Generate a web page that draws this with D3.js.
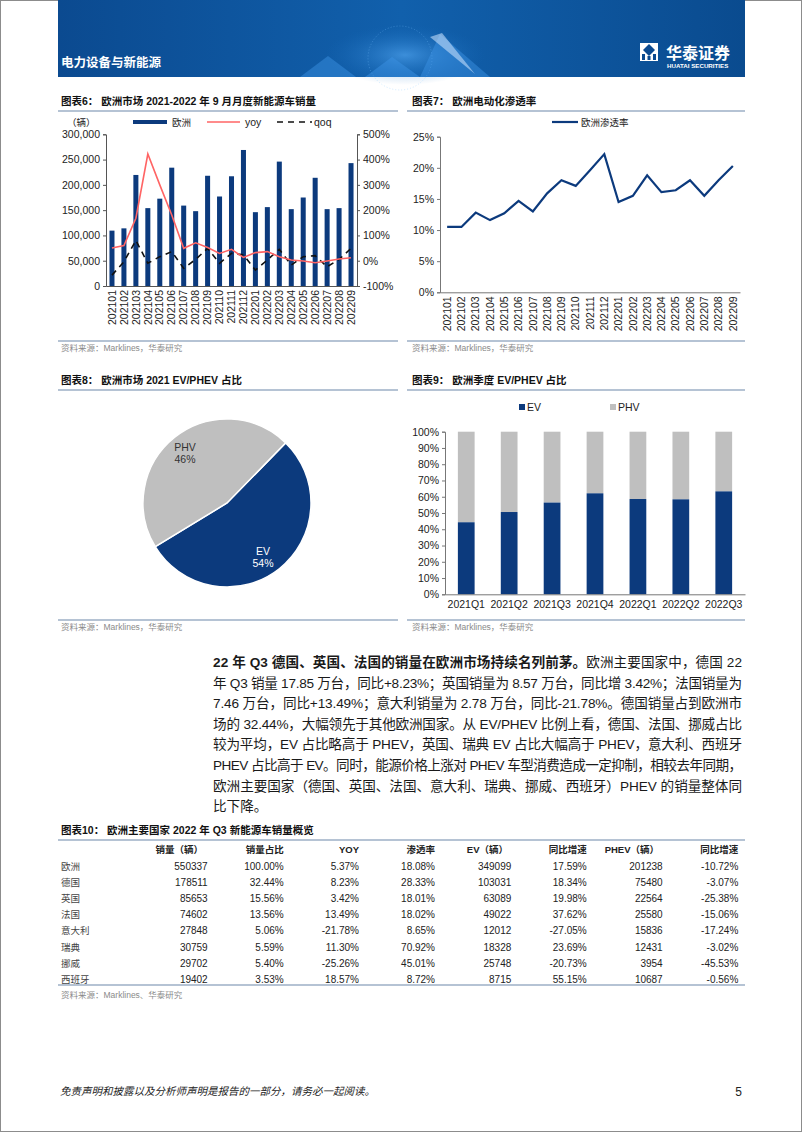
<!DOCTYPE html>
<html><head><meta charset="utf-8">
<script src="https://cdn.jsdelivr.net/npm/d3@7"></script>
<style>
body{margin:0;padding:0;background:#fff;}
svg{display:block;}
text{font-family:"Liberation Sans",Arial,"Noto Sans CJK SC",sans-serif;}
</style></head>
<body>
<svg id="page" width="802" height="1133"></svg>
<script>
// ---------- DATA ----------
const months = ["202101","202102","202103","202104","202105","202106","202107","202108","202109","202110","202111","202112","202201","202202","202203","202204","202205","202206","202207","202208","202209"];
const euSales = [109500,114000,219600,154000,172700,234000,159000,148000,218000,177000,217000,269000,146000,156000,246000,152000,175000,214000,152000,154000,243000];
const yoy = [0.50,0.60,1.68,4.22,3.00,1.81,0.49,0.71,0.52,0.29,0.45,0.13,0.32,0.36,0.16,0.03,-0.01,-0.08,-0.01,0.07,0.12];
const qoq = [-0.57,-0.04,0.80,-0.10,0.16,0.36,-0.30,0.05,0.49,-0.10,0.29,0.23,-0.37,0.03,0.45,-0.17,0.16,0.20,-0.24,0.05,0.49];
const leftTicks6 = [0,50000,100000,150000,200000,250000,300000];
const rightTicks6 = [-1,0,1,2,3,4,5];

const penetration = [0.105,0.105,0.128,0.116,0.127,0.147,0.130,0.159,0.180,0.171,0.196,0.222,0.145,0.155,0.188,0.161,0.164,0.180,0.155,0.180,0.203];
const ticks7 = [0,0.05,0.10,0.15,0.20,0.25];

const pieLabels = ["EV","PHV"];
const pieValues = [54,46];

const quarters = ["2021Q1","2021Q2","2021Q3","2021Q4","2022Q1","2022Q2","2022Q3"];
const evShare = [0.443,0.506,0.564,0.621,0.586,0.584,0.633];
const ticks9 = [0,0.1,0.2,0.3,0.4,0.5,0.6,0.7,0.8,0.9,1.0];

const countries = ["欧洲","德国","英国","法国","意大利","瑞典","挪威","西班牙"];
const sales = [550337,178511,85653,74602,27848,30759,29702,19402];
const salesShare = [100.00,32.44,15.56,13.56,5.06,5.59,5.40,3.53];
const salesYoy = [5.37,8.23,3.42,13.49,-21.78,11.30,-25.26,18.57];
const penRate = [18.08,28.33,18.01,18.02,8.65,70.92,45.01,8.72];
const evSales = [349099,103031,63089,49022,12012,18328,25748,8715];
const evYoy = [17.59,18.34,19.98,37.62,-27.05,23.69,-20.73,55.15];
const phevSales = [201238,75480,22564,25580,15836,12431,3954,10687];
const phevYoy = [-10.72,-3.07,-25.38,-15.06,-17.24,-3.02,-45.53,-0.56];
const tableHeaders = ["销量（辆）","销量占比","YOY","渗透率","EV（辆）","同比增速","PHEV（辆）","同比增速"];

// ---------- STYLE ----------
const NAVY = "#0C3A7D", GREY = "#BFBFBF", RED = "#FF6464", TXT = "#222", SRC = "#8a8a8a", RULE = "#9DAFC6";
const svg = d3.select("#page");

// page border
svg.append("rect").attr("x",0.5).attr("y",0.5).attr("width",801).attr("height",1131).attr("fill","none").attr("stroke","#8c8c8c");

// ---------- HEADER BANNER ----------
const defs = svg.append("defs");
const bg = defs.append("linearGradient").attr("id","bannerG").attr("x1","0").attr("x2","1").attr("y1","0").attr("y2","0");
bg.append("stop").attr("offset","0").attr("stop-color","#0B4A90");
bg.append("stop").attr("offset","0.5").attr("stop-color","#1160AC");
bg.append("stop").attr("offset","1").attr("stop-color","#0A4B8F");
const rg = defs.append("radialGradient").attr("id","glow");
rg.append("stop").attr("offset","0").attr("stop-color","#5fb4ff").attr("stop-opacity",0.55);
rg.append("stop").attr("offset","1").attr("stop-color","#1a6fc0").attr("stop-opacity",0);
svg.append("rect").attr("x",58).attr("y",0).attr("width",687).attr("height",77).attr("fill","url(#bannerG)");
svg.append("ellipse").attr("cx",405).attr("cy",55).attr("rx",80).attr("ry",30).attr("fill","url(#glow)");
svg.append("circle").attr("cx",400).attr("cy",58).attr("r",32).attr("fill","none").attr("stroke","#7cc4ff").attr("stroke-opacity",0.35).attr("stroke-dasharray","1,2");
const tri = [[[300,77],[328,56],[356,77]],[[365,77],[392,57],[420,77]],[[420,77],[440,34],[490,77]],[[430,37],[442,33],[475,74]]];
tri.forEach((t,i)=>svg.append("path").attr("d","M"+t.map(p=>p.join(",")).join("L")+"Z")
  .attr("fill", i===3 ? "#cfe6ff" : "#3f95e6").attr("fill-opacity", i===3?0.55:0.45));
svg.append("text").attr("x",61).attr("y",67).attr("fill","#fff").attr("font-size",12.5).attr("font-weight","bold").text("电力设备与新能源");
// logo
const lg = svg.append("g").attr("transform","translate(640,43)");
lg.append("rect").attr("x",0).attr("y",0).attr("width",18).attr("height",18).attr("fill","#fff");
lg.append("path").attr("d","M9,1 L15,7 L9,13 L3,7Z").attr("fill","#0B4A90");
lg.append("path").attr("d","M2,11 L2,17 L5,17 L5,11Z M13,11 L13,17 L16,17 L16,11Z M7.5,13 L7.5,17 L10.5,17 L10.5,13Z").attr("fill","#0B4A90");
svg.append("text").attr("x",666).attr("y",59).attr("fill","#fff").attr("font-size",16).attr("font-weight","bold").text("华泰证券");
svg.append("text").attr("x",667).attr("y",68).attr("fill","#fff").attr("font-size",6.2).attr("font-weight","bold").text("HUATAI SECURITIES");

// ---------- helpers ----------
function title(x, y, x1, x2, txt){
  svg.append("text").attr("x",x).attr("y",y).attr("fill","#111").attr("font-size",10.5).attr("font-weight","bold").text(txt);
  svg.append("line").attr("x1",x1).attr("x2",x2).attr("y1",y+6).attr("y2",y+6).attr("stroke",RULE).attr("stroke-width",1.3);
}
function source(x, y, x1, x2, txt, sep){
  if(sep) svg.append("line").attr("x1",x1).attr("x2",x2).attr("y1",y-10).attr("y2",y-10).attr("stroke",RULE).attr("stroke-width",1.3);
  svg.append("text").attr("x",x).attr("y",y).attr("fill",SRC).attr("font-size",8.5).text(txt);
}
const pct0 = d=>Math.round(d*100)+"%";

// ---------- CHART 6 ----------
title(61,105,58,398,"图表6：  欧洲市场 2021-2022 年 9 月月度新能源车销量");
{
  const x = d3.scaleBand().domain(months).range([106,357]).paddingInner(0.58).paddingOuter(0.29);
  const yL = d3.scaleLinear().domain([0,300000]).range([286,134.3]);
  const yR = d3.scaleLinear().domain([-1,5]).range([286,134.3]);
  const g = svg.append("g");
  g.selectAll("rect.bar").data(months).join("rect").attr("class","bar")
    .attr("x",d=>x(d)).attr("width",x.bandwidth())
    .attr("y",(d,i)=>yL(euSales[i])).attr("height",(d,i)=>yL(0)-yL(euSales[i])).attr("fill",NAVY);
  const cx = d=>x(d)+x.bandwidth()/2;
  g.append("path").datum(months).attr("fill","none").attr("stroke","#111").attr("stroke-width",1.6).attr("stroke-dasharray","6,5")
    .attr("d",d3.line().x(d=>cx(d)).y((d,i)=>yR(qoq[i])));
  g.append("path").datum(months).attr("fill","none").attr("stroke",RED).attr("stroke-width",1.6)
    .attr("d",d3.line().x(d=>cx(d)).y((d,i)=>yR(yoy[i])));
  const aL = g.append("g").attr("transform","translate(106,0)")
    .call(d3.axisLeft(yL).tickValues(leftTicks6).tickSize(3).tickFormat(d3.format(",")));
  const aR = g.append("g").attr("transform","translate(357,0)")
    .call(d3.axisRight(yR).tickValues(rightTicks6).tickSize(3).tickFormat(pct0));
  const aB = g.append("g").attr("transform","translate(0,286)").call(d3.axisBottom(x).tickSize(0).tickPadding(4));
  [aL,aR,aB].forEach(a=>{a.select(".domain").attr("stroke","#555");a.selectAll(".tick line").attr("stroke","#555");
    a.selectAll("text").attr("fill",TXT).attr("font-size",10.5).attr("font-family",null);});
  aB.selectAll("text").attr("transform","rotate(-90)").attr("text-anchor","end").attr("dx","-4").attr("dy","0.35em").attr("y",0).attr("x",0);
  // legend
  svg.append("text").attr("x",67).attr("y",126).attr("font-size",9.5).attr("fill",TXT).text("（辆）");
  svg.append("rect").attr("x",133).attr("y",120).attr("width",34).attr("height",4).attr("fill",NAVY);
  svg.append("text").attr("x",172).attr("y",126).attr("font-size",9.5).attr("fill",TXT).text("欧洲");
  svg.append("line").attr("x1",207).attr("x2",240).attr("y1",122).attr("y2",122).attr("stroke",RED).attr("stroke-width",1.6);
  svg.append("text").attr("x",245).attr("y",126).attr("font-size",10.5).attr("fill",TXT).text("yoy");
  svg.append("line").attr("x1",277).attr("x2",312).attr("y1",122).attr("y2",122).attr("stroke","#111").attr("stroke-width",1.6).attr("stroke-dasharray","6,5");
  svg.append("text").attr("x",314).attr("y",126).attr("font-size",10.5).attr("fill",TXT).text("qoq");
}
source(61,351,58,398,"资料来源：Marklines，华泰研究",true);

// ---------- CHART 7 ----------
title(412,105,407,745,"图表7：  欧洲电动化渗透率");
{
  const x = d3.scaleBand().domain(months).range([440,740]);
  const y = d3.scaleLinear().domain([0,0.25]).range([292.3,136.7]);
  const g = svg.append("g");
  g.append("path").datum(months).attr("fill","none").attr("stroke",NAVY).attr("stroke-width",2.2)
    .attr("d",d3.line().x(d=>x(d)+x.bandwidth()/2).y((d,i)=>y(penetration[i])));
  const aL = g.append("g").attr("transform","translate(440,0)").call(d3.axisLeft(y).tickValues(ticks7).tickSize(3).tickFormat(pct0));
  const aB = g.append("g").attr("transform","translate(0,292.3)").call(d3.axisBottom(x).tickSize(0).tickPadding(4));
  [aL,aB].forEach(a=>{a.select(".domain").attr("stroke","#777");a.selectAll(".tick line").attr("stroke","#777");
    a.selectAll("text").attr("fill",TXT).attr("font-size",10.5).attr("font-family",null);});
  aB.selectAll("text").attr("transform","rotate(-90)").attr("text-anchor","end").attr("dx","-4").attr("dy","0.35em").attr("y",0).attr("x",0);
  svg.append("line").attr("x1",552).attr("x2",578).attr("y1",122).attr("y2",122).attr("stroke",NAVY).attr("stroke-width",2.2);
  svg.append("text").attr("x",581).attr("y",126).attr("font-size",9.5).attr("fill",TXT).text("欧洲渗透率");
}
source(412,351,407,745,"资料来源：Marklines，华泰研究",true);

// ---------- CHART 8 (pie) ----------
title(61,384,58,398,"图表8：  欧洲市场 2021 EV/PHEV 占比");
{
  const pie = d3.pie().sort(null).value(d=>d).startAngle(44.3*Math.PI/180).endAngle(44.3*Math.PI/180+2*Math.PI);
  const arcs = pie(pieValues);
  const arc = d3.arc().innerRadius(0).outerRadius(84);
  const g = svg.append("g").attr("transform","translate(227,503)");
  g.selectAll("path").data(arcs).join("path").attr("d",arc)
    .attr("fill",(d,i)=>i===0?NAVY:GREY).attr("stroke","#fff").attr("stroke-width",1.5);
  const lab = [[36,52],[-42,-52]];
  arcs.forEach((a,i)=>{
    const t = g.append("text").attr("text-anchor","middle").attr("font-size",10.5).attr("fill",i===0?"#fff":"#333");
    t.append("tspan").attr("x",lab[i][0]).attr("y",lab[i][1]).text(pieLabels[i]);
    t.append("tspan").attr("x",lab[i][0]).attr("y",lab[i][1]+12).text(Math.round(pieValues[i])+"%");
  });
}
source(61,630,58,398,"资料来源：Marklines，华泰研究",true);

// ---------- CHART 9 (stacked) ----------
title(412,384,407,745,"图表9：  欧洲季度 EV/PHEV 占比");
{
  const x = d3.scaleBand().domain(quarters).range([445,745]).paddingInner(0.61).paddingOuter(0.3);
  const y = d3.scaleLinear().domain([0,1]).range([594.3,431.7]);
  const g = svg.append("g");
  g.selectAll("rect.ph").data(quarters).join("rect").attr("x",d=>x(d)).attr("width",x.bandwidth())
    .attr("y",y(1)).attr("height",(d,i)=>y(evShare[i])-y(1)).attr("fill",GREY);
  g.selectAll("rect.ev").data(quarters).join("rect").attr("x",d=>x(d)).attr("width",x.bandwidth())
    .attr("y",(d,i)=>y(evShare[i])).attr("height",(d,i)=>y(0)-y(evShare[i])).attr("fill",NAVY);
  const aL = g.append("g").attr("transform","translate(445,0)").call(d3.axisLeft(y).tickValues(ticks9).tickSize(3).tickFormat(pct0));
  const aB = g.append("g").attr("transform","translate(0,594.3)").call(d3.axisBottom(x).tickSize(0).tickPadding(6));
  [aL,aB].forEach(a=>{a.select(".domain").attr("stroke","#777");a.selectAll(".tick line").attr("stroke","#777");
    a.selectAll("text").attr("fill",TXT).attr("font-size",10.5).attr("font-family",null);});
  svg.append("rect").attr("x",519).attr("y",404).attr("width",6).attr("height",6).attr("fill",NAVY);
  svg.append("text").attr("x",527).attr("y",411).attr("font-size",10.5).attr("fill",TXT).text("EV");
  svg.append("rect").attr("x",610).attr("y",404).attr("width",6).attr("height",6).attr("fill",GREY);
  svg.append("text").attr("x",618).attr("y",411).attr("font-size",10.5).attr("fill",TXT).text("PHV");
}
source(412,630,407,745,"资料来源：Marklines，华泰研究",true);

// ---------- PARAGRAPH ----------
{
  const lines = [
    [["22 年 Q3 德国、英国、法国的销量在欧洲市场持续名列前茅。",true],["欧洲主要国家中，德国 22",false]],
    [["年 Q3 销量 17.85 万台，同比+8.23%；英国销量为 8.57 万台，同比增 3.42%；法国销量为",false]],
    [["7.46 万台，同比+13.49%；意大利销量为 2.78 万台，同比-21.78%。德国销量占到欧洲市",false]],
    [["场的 32.44%，大幅领先于其他欧洲国家。从 EV/PHEV 比例上看，德国、法国、挪威占比",false]],
    [["较为平均，EV 占比略高于 PHEV，英国、瑞典 EV 占比大幅高于 PHEV，意大利、西班牙",false]],
    [["PHEV 占比高于 EV。同时，能源价格上涨对 PHEV 车型消费造成一定抑制，相较去年同期，",false]],
    [["欧洲主要国家（德国、英国、法国、意大利、瑞典、挪威、西班牙）PHEV 的销量整体同",false]],
    [["比下降。",false]]
  ];
  lines.forEach((ln,i)=>{
    const t = svg.append("text").attr("x",213).attr("y",667+i*20.6).attr("font-size",13.6).attr("fill","#1a1a1a");
    if(i<lines.length-1) t.attr("textLength",529).attr("lengthAdjust","spacing");
    ln.forEach(s=>t.append("tspan").attr("font-weight",s[1]?"bold":"normal").text(s[0]));
  });
}

// ---------- TABLE ----------
title(61,834,58,745,"图表10：  欧洲主要国家 2022 年 Q3 新能源车销量概览");
{
  const colRight = [207.7,283.7,359,435,511.3,586.7,662.7,738.3];
  const headRight = [203,283.7,359,435,508,586.7,659,738.3];
  tableHeaders.forEach((h,i)=>svg.append("text").attr("x",headRight[i]).attr("y",853).attr("text-anchor","end")
    .attr("font-size",9.5).attr("font-weight","bold").attr("fill","#222").text(h));
  const fp = v=>v.toFixed(2)+"%";
  const rows = countries.map((c,i)=>[String(sales[i]),fp(salesShare[i]),fp(salesYoy[i]),fp(penRate[i]),String(evSales[i]),fp(evYoy[i]),String(phevSales[i]),fp(phevYoy[i])]);
  rows.forEach((r,ri)=>{
    const y = 870+ri*16.1;
    svg.append("text").attr("x",61).attr("y",y).attr("font-size",9.5).attr("fill","#444").text(countries[ri]);
    r.forEach((v,ci)=>svg.append("text").attr("x",colRight[ci]).attr("y",y).attr("text-anchor","end")
      .attr("font-size",10).attr("fill","#222").text(v));
  });
  svg.append("line").attr("x1",58).attr("x2",745).attr("y1",985).attr("y2",985).attr("stroke",RULE).attr("stroke-width",1.3);
  svg.append("text").attr("x",61).attr("y",998).attr("fill",SRC).attr("font-size",8.5).text("资料来源：Marklines、华泰研究");
}

// ---------- FOOTER ----------
svg.append("text").attr("x",60).attr("y",1095).attr("font-size",10.5).attr("font-style","italic").attr("fill","#222")
  .text("免责声明和披露以及分析师声明是报告的一部分，请务必一起阅读。");
svg.append("text").attr("x",742).attr("y",1096).attr("font-size",12).attr("text-anchor","end").attr("fill","#222").text("5");
</script>
</body></html>
